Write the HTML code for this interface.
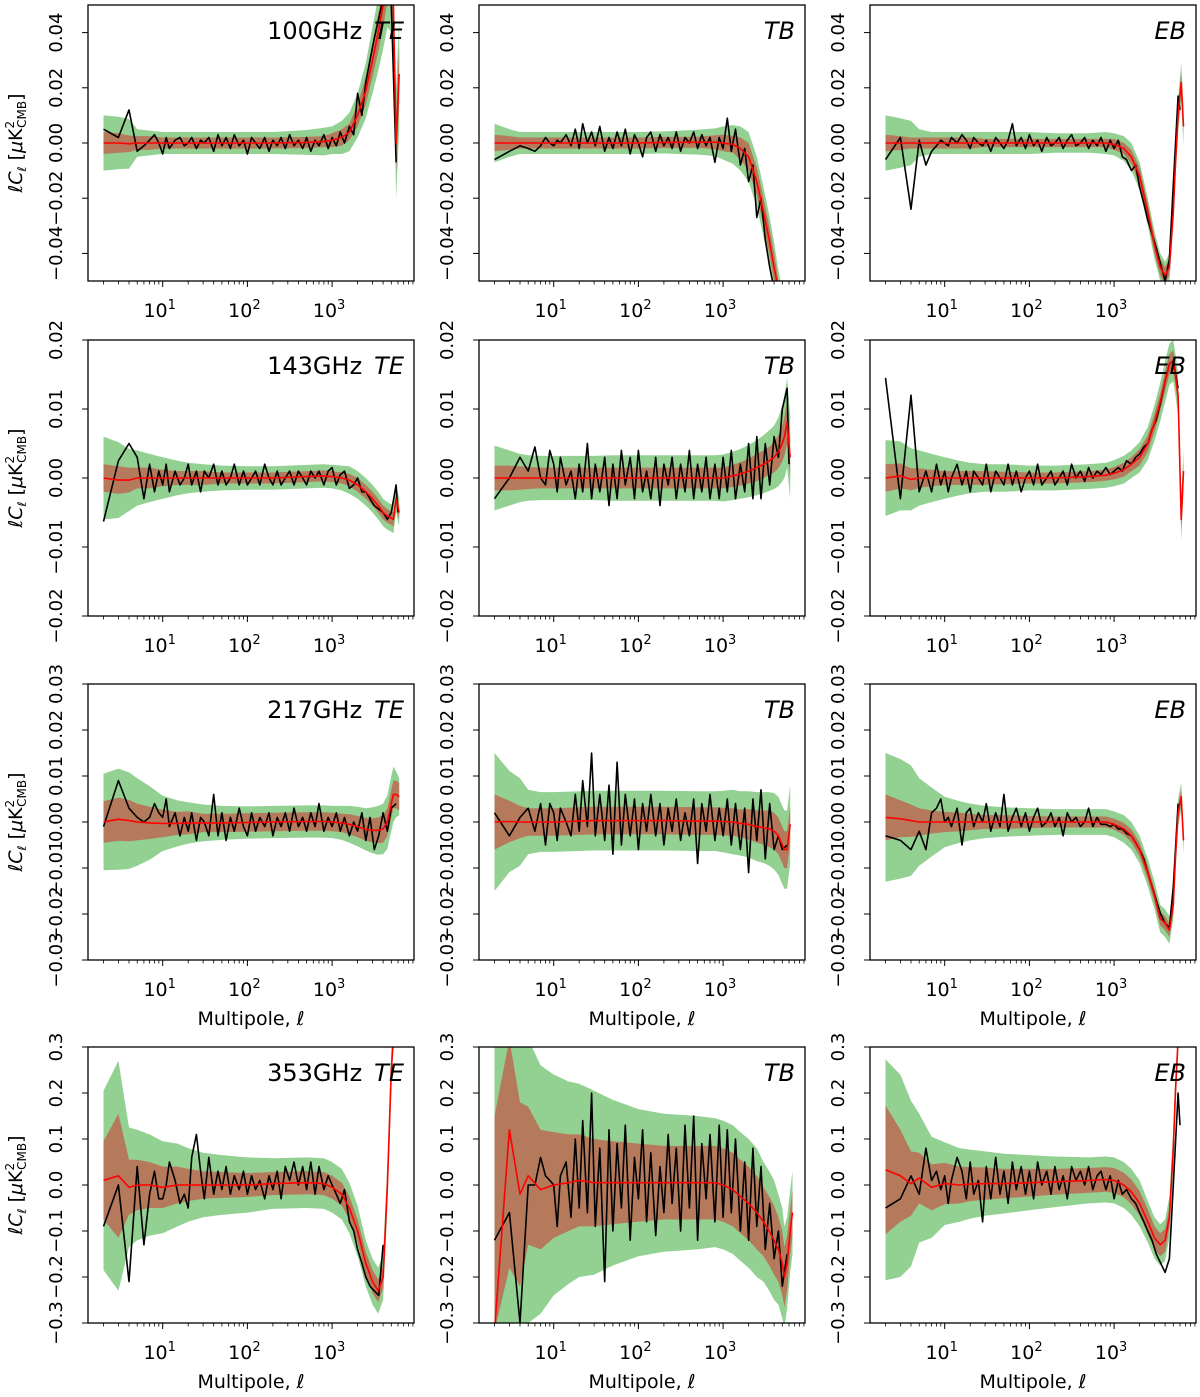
<!DOCTYPE html>
<html><head><meta charset="utf-8"><style>
html,body{margin:0;padding:0;background:#fff;overflow:hidden;width:1200px;height:1397px;}
svg{display:block;font-family:"DejaVu Sans","Liberation Sans",sans-serif;}
</style></head><body>
<svg id="fig" width="1200" height="1397" viewBox="0 0 1200 1397" xmlns="http://www.w3.org/2000/svg"></svg>
<script>
// multipole grids
const MELL=[2,3,4,5,7,10,15,20,30,50,100,200,500,800,1000,1300,1600,2000,2500,3000,3500,4000,4500,5000,5300,5700,6200,6600];
const DELL=[2,3,4,5,6,7,8,9,10,11,12,14,16,18,20,22,25,28,31,35,40,45,50,56,63,70,80,90,100,112,125,140,160,180,200,225,250,280,315,355,400,450,500,560,630,700,800,900,1000,1120,1250,1400,1600,1800,2000,2250,2500,2800,3150,3550,4000,4500,5000,5700,6000];
// row scales (values stored in 1e-3, row 4 in 1e-2)
const rowUnits=[1e-3,1e-3,1e-3,1e-2];
const rowLims=[0.05,0.02,0.03,0.3];
const rowTicks=[[-0.04,-0.02,0,0.02,0.04],[-0.02,-0.01,0,0.01,0.02],[-0.03,-0.02,-0.01,0,0.01,0.02,0.03],[-0.3,-0.2,-0.1,0,0.1,0.2,0.3]];
const rowTickLabels=[["−0.04","−0.02","0.00","0.02","0.04"],["−0.02","−0.01","0.00","0.01","0.02"],["−0.03","−0.02","−0.01","0.00","0.01","0.02","0.03"],["−0.3","−0.2","−0.1","0.0","0.1","0.2","0.3"]];
const freqs=["100GHz","143GHz","217GHz","353GHz"];
const spectra=["TE","TB","EB"];
const xTickExps=[1,2,3];

// 100GHz
const m100TE=[0,0,-0.3,0,0,0,0,0,0,0,0,0,0.2,0.5,1,2,4,10,19,30,40,50,60,60,50,0,25,null];
const s1_100TE=[4,3.5,3,2.5,2.5,2,2,2,2,2,2,2,2,2,2.5,3,3,4,5,6,7,8,9,10,10,10,10,10];
const s2_100TE=[10,9.5,9,5,4.5,4,4,4,4,4,4,4,4.5,5,5,6,7,8,10,12,14,16,18,20,20,20,20,20];
const d100TE=[5,2,12,-3,-1,1,3,0,-4,2,-2,1,2,-1,0,2,-2,1,0,2,-3,3,-1,2,-2,3,-1,1,-4,2,0,-2,2,-3,1,-1,2,-2,3,-1,1,-2,2,-3,1,-1,3,-2,2,-1,4,0,6,3,18,10,22,30,38,45,55,60,50,-7,null];
const m100TB=[0,0,0,0,0,0,0,0,0,0,0,0.2,0.3,0.3,0,-0.5,-2,-5,-14,-25,-35,-45,-55,-70,-70,-70,-70,null];
const s1_100TB=[3,2.5,2,2,2,2,2,2,2,2,2,2,2,2.5,3,3,4,5,5,5,5,5,5,5,5,5,5,5];
const s2_100TB=[7,5,4,4,4,4,4,4,4,4,4,4,4.5,5,6,7,8,9,9,9,9,9,9,9,9,9,9,9];
const d100TB=[-6,-3,-1,-2,-3,-1,2,0,-1,1,0,3,-1,5,-2,7,0,4,-1,6,-3,2,-2,4,-1,5,-4,3,0,-5,2,4,-3,3,-1,2,-2,4,-3,2,0,4,-2,3,-1,2,-7,2,-2,9,-3,5,-8,-2,-14,-8,-27,-20,-35,-45,-55,-60,null,null,null];
const m100EB=[0,0,0,0,0,0,0,0,0,0,0,0,0,0,-0.5,-2,-5,-12,-25,-37,-45,-48,-45,-25,-8,10,22,6];
const s1_100EB=[3,2.5,2,2,2,2,2,2,1.5,1.5,1.5,1.5,1.5,1.5,2,2,2.5,3,3,3,3,3,3,3,3,3,3,3];
const s2_100EB=[10,9,8,5,4,4,4,4,4,4,4,3.5,3.5,4,4,4.5,5,5,5,5,5,5,5,5,5,6,7,7];
const d100EB=[-6,2,-24,1,-8,-3,-1,1,0,-1,2,0,3,1,-2,2,0,-1,1,-3,2,0,-2,1,7,-1,2,-2,3,-1,1,-3,2,-1,0,2,-2,1,3,-1,0,2,-2,1,-1,2,-3,1,-2,1,-5,-6,-10,-8,-16,-22,-28,-33,-38,-44,-50,-42,-15,17,12];
// 143GHz
const m143TE=[0,-0.3,-0.3,0,0,0,0,0,0,0,0,0,0.2,0.3,0.2,0,-0.3,-1,-2,-3,-4,-5,-5.5,-5.8,-6,-3,-5,null];
const s1_143TE=[2,2,1.8,1.5,1.5,1.2,1,1,1,0.8,0.8,0.8,0.8,0.8,0.8,0.8,0.9,1,1,1,1,1,1,1,1,1,1,1];
const s2_143TE=[6,5.5,4.5,4,3.5,3,2.5,2.2,2,1.8,1.7,1.7,1.7,1.7,1.7,1.8,2,2,2,2,2,2,2,2,2,2,2,2];
const d143TE=[-6.3,2.5,5,3,-3,2,-2,1,-1,2,-2,1,-1,0,2,-1,1,-2,1,0,2,-1,1,-1,0,2,-1,1,-1,0,1,-1,2,0,-1,1,-1,0,1,-1,1,0,-1,1,0,1,-1,1,1.5,-1,0.5,1,-1.5,-1,0,-2,-2,-3,-4,-4.5,-5,-6,-5,-1,-5];
const m143TB=[0,0,0,0,0,0,0,0,0,0,0,0,0,0,0,0.3,0.6,1,1.5,2,2.5,3,3.8,5,6,8,3,null];
const s1_143TB=[1.8,1.8,1.7,1.6,1.5,1.5,1.5,1.5,1.5,1.5,1.5,1.5,1.5,1.5,1.5,1.6,1.7,1.8,2,2,2,2.2,2.4,2.6,2.8,3,3,3];
const s2_143TB=[4.7,4,3.5,3.3,3.2,3.2,3.2,3.2,3.2,3.3,3.3,3.3,3.3,3.3,3.4,3.5,3.6,3.8,4,4.2,4.4,4.6,5,5.5,6,6.5,6,6];
const d143TB=[-3,0,3,1,4.5,0,-1,4,2,-2,3,-1,1,-3,2,-2,5,-3,2,-2,3,-4,2,-3,4,-1,3,-3,4,-2,1,-3,3,-4,2,-1,3,-3,2,-2,4,-3,2,-2,3,-3,2,-3,3,-2,4,-3,2,-2,5,-3,6,-3,5,-1,6,3,10,13,2];
const m143EB=[0,0.3,-0.2,0,0,0,0,0,0,0,0,0,0.2,0.4,0.7,1.2,2,3,5,8,11,14,16.5,17,15,12,-6,1];
const s1_143EB=[2,1.8,1.6,1.4,1.2,1,1,1,1,0.9,0.8,0.8,0.8,0.8,0.9,1,1,1.2,1.2,1.3,1.3,1.4,1.5,1.5,1.5,1.5,1.5,1.5];
const s2_143EB=[5.5,5,4.5,4,3.5,3,2.5,2.2,2,2,1.8,1.8,1.8,1.8,1.9,2,2,2.2,2.4,2.6,2.8,3,3,3,3,3,3,3];
const d143EB=[14.5,-3,12,-2,1,-2,2,-1,1,-2,0,2,-1,1,-2,1,0,-1,2,-2,1,0,-1,2,-1,1,-2,0,1,-1,2,-1,0,1,-1,0,1,-1,2,0,1,-0.5,1.5,0,1,0.5,1.5,0.5,1,1.5,1,2.5,2,3,3.5,4.5,5,7,8.5,11,14,16.5,17,13,null];
// 217GHz
const m217TE=[0,0.6,0.3,0,-0.2,-0.3,-0.3,-0.2,-0.2,-0.2,-0.1,0,0.1,0.1,0,-0.2,-0.5,-1,-1.6,-1.8,-1.8,-1.5,0,4,6,6,5.5,null];
const s1_217TE=[4.5,4.7,4.5,4,3.5,3,2.5,2.5,2,2,2,2,2,2,2,2,2.2,2.3,2.5,2.6,2.8,3,3,3,3,3,3,3];
const s2_217TE=[10.5,11,10.5,9.5,8,6,5,4.5,4,3.7,3.5,3.5,3.5,3.5,3.5,3.7,4,4.3,4.6,5,5.3,5.5,5.8,6,6,5,4,4];
const d217TE=[-1,9,3,1,0,1,4,2,1,5,-1,2,-3,1,-2,2,-4,1,0,-3,6,-3,2,-4,1,-2,3,-1,-3,2,-2,1,-1,2,-3,1,-1,2,-2,3,-1,1,-2,2,-1,4,-2,1,-1,2,-2,1,-3,0,-2,2,-4,1,-6,-3,2,-2,3,4,null];
const m217TB=[0,0.1,0,0,0,0,0.1,0.2,0.3,0.3,0.3,0.3,0.2,0.2,0.1,0,-0.3,-0.5,-1,-1.2,-1.5,-2,-3,-5,-6,-6,-0.5,null];
const s1_217TB=[6,4.5,3.5,3,3,3,3,3,3,3,3,3,3,3,3,3,3,3.3,3.5,3.7,4,4,4,4,4,4,4,4];
const s2_217TB=[15,11,9.5,7,6.5,6.5,6.5,6.5,6.5,6.5,6.5,6.5,6.5,6.5,6.7,7,7,7.2,7.5,7.7,8,8.3,8.5,8.5,8.5,8.5,8.5,8.5];
const d217TB=[2,-3,1,3,-2,4,-5,4,2,-4,3,0,-3,6,-2,9,-1,15,-3,6,-4,8,-7,13,-5,6,-3,5,-6,4,-2,6,-3,4,-5,3,-2,5,-4,2,-3,5,-9,4,-2,6,-4,3,-3,5,-5,4,-6,3,-11,5,-4,7,-8,4,-6,-3,-6,-5,null];
const m217EB=[1,0.7,0.3,0,0,0,0,0,0,0,0,0,0,0,-0.5,-1.5,-3,-6,-11,-16,-21,-22,-23.5,-18,-8,2,5.5,-4];
const s1_217EB=[5,4,3.5,3,2.5,2.2,2,1.8,1.5,1.5,1.3,1.2,1.2,1.2,1.2,1.3,1.4,1.5,1.5,1.5,1.5,1.5,1.5,1.5,1.5,1.5,1.5,1.5];
const s2_217EB=[14,13,12,9.5,7.5,5.5,4.5,4,3.5,3.2,3,2.8,2.8,2.8,2.8,3,3,3,3,3,3,3,3,3,3,3,3,3];
const d217EB=[-3,-4,-6,-2,-6,2,3,5,0,1,-1,3,-5,2,3,-1,2,0,4,-2,2,-1,6,-2,1,3,-1,2,-2,1,3,-1,0,2,-1,1,-3,2,0,1,-1,0,3,-1,1,-0.5,-0.5,-1,-0.5,-1.5,-1.5,-2.5,-3,-4.5,-6,-8,-11,-14,-17,-20,-22,-23,-14,4,null];
// 353GHz (units 1e-2)
const m353TE=[1,2,-0.5,0,0,-0.5,0,0,0,0,0,0.3,0.5,0.3,-0.5,-2,-5,-10,-17,-21,-23,-20,0,25,40,60,60,null];
const s1_353TE=[8.5,13.5,6,5.5,5,4.5,4,3.5,3,2.8,2.6,2.5,2.5,2.5,2.5,2.5,2.5,2.5,2.5,2.5,2.5,2.5,2.5,2.5,2.5,2.5,2.5,2.5];
const s2_353TE=[19.5,25,13,12,11,10,9,8,7,6.5,6,5.5,5.5,5.5,5.5,5.5,5.5,5.5,5,5,5,5,5,5,5,5,5,5];
const d353TE=[-9,0,-21,4,-13,-2,3,-3,-3,0,5,1,-4,-2,-5,6,11,3,-3,6,-2,3,-1,4,-2,2,-1,3,-2,2,-1,1,-3,2,-1,3,-3,4,1,5,0,4,-1,5,-2,4,-1,2,0,-2,-4,-1,-8,-10,-14,-17,-20,-22,-23,-24,-13,null,null,null,null];
const m353TB=[-45,12,-2,2,-1,0,0.5,1,0.5,0.5,0.5,0.5,0.5,0.5,0,-1,-2.5,-4,-6,-8,-10,-12,-14,-17,-20,-17,-10,-6];
const s1_353TB=[60,30,20,15,13,11.5,10.5,10,9.5,9,8.5,8,8,8,8,8,8,8,8,7.5,7.5,7.5,7,7,6.5,6,5,5];
const s2_353TB=[100,60,40,32,27,24,22,21,20,18,16,15,14.5,14,14,14,14,14,14,13,13,13,12,12,11,10,9,9];
const d353TB=[-12,-6,-30,0,0,6,2,1,0,-9,2,5,-7,10,-5,14,-6,20,-9,8,-21,12,-10,9,-5,13,-12,6,-3,12,-8,7,-11,4,-6,11,-4,8,-10,13,-5,15,-12,9,-3,11,-8,13,-7,12,-6,10,-10,5,-12,8,-9,4,-14,-4,-16,-10,-22,-15,null];
const m353EB=[3.3,2,0.3,1.5,-0.5,0.3,0,0.2,0.3,0.3,0.5,0.7,1,1.2,1,0,-1.5,-4,-8,-11.5,-13,-12,-7,8,20,35,60,null];
const s1_353EB=[14,10,7,5.5,5,4.5,4,3.7,3.5,3.2,3,2.8,2.7,2.7,2.7,2.7,2.7,2.7,2.7,2.5,2.5,2.5,2.5,2.5,2.5,2.5,2.5,2.5];
const s2_353EB=[24,22,18,14,11,9,8,7.5,7,6.5,6,5.5,5,5,5,5,5,5,4.5,4.5,4.5,4.5,4.5,4.5,4.5,4.5,4.5,4.5];
const d353EB=[-5,-3,2,-2,8,1,3,-1,2,-4,1,6,3,-3,5,-2,1,-8,4,-3,6,-2,3,-4,5,-1,4,-2,3,-3,5,0,3,-2,4,-1,2,-3,4,1,3,0,4,-1,2,3,-1,2,-3,1,-2,-1,-3,-4,-6,-8,-10,-12,-15,-17,-19,-16,0,20,13];

const models=[[m100TE,m100TB,m100EB],[m143TE,m143TB,m143EB],[m217TE,m217TB,m217EB],[m353TE,m353TB,m353EB]];
const sig1=[[s1_100TE,s1_100TB,s1_100EB],[s1_143TE,s1_143TB,s1_143EB],[s1_217TE,s1_217TB,s1_217EB],[s1_353TE,s1_353TB,s1_353EB]];
const sig2=[[s2_100TE,s2_100TB,s2_100EB],[s2_143TE,s2_143TB,s2_143EB],[s2_217TE,s2_217TB,s2_217EB],[s2_353TE,s2_353TB,s2_353EB]];
const datas=[[d100TE,d100TB,d100EB],[d143TE,d143TB,d143EB],[d217TE,d217TB,d217EB],[d353TE,d353TB,d353EB]];

const NS="http://www.w3.org/2000/svg";
const svg=document.getElementById('fig');
const colX=[88,479,870], PW=326;
const rowY=[5,340,684,1047], PH=276;
function el(tag,attrs,parent){const e=document.createElementNS(NS,tag);for(const k in attrs)e.setAttribute(k,attrs[k]);(parent||svg).appendChild(e);return e;}

for(let r=0;r<4;r++){
  for(let c=0;c<3;c++){
    const x0=colX[c], y0=rowY[r];
    const lim=rowLims[r], u=rowUnits[r];
    const X=l=>x0+74.7+(Math.log10(l)-1)*84.7;
    const Yraw=v=>y0+PH/2-(v*u)/lim*(PH/2);
    const clampY=y=>Math.max(y0-8,Math.min(y0+PH+8,y));
    const Y=v=>clampY(Yraw(v));
    const g=el('g',{});
    
    
    const cid='clip'+r+c;
    const cp=el('clipPath',{id:cid},g); el('rect',{x:x0,y:y0,width:PW,height:PH},cp);
    const pg=el('g',{'clip-path':'url(#'+cid+')'},g);
    const m=models[r][c], s1=sig1[r][c], s2=sig2[r][c], d=datas[r][c];
    function band(s,color,name){
      const up=[],lo=[];
      for(let i=0;i<MELL.length;i++){ if(m[i]===null)continue; up.push(X(MELL[i]).toFixed(1)+','+Y(m[i]+s[i]).toFixed(1)); lo.unshift(X(MELL[i]).toFixed(1)+','+Y(m[i]-s[i]).toFixed(1)); }
      const p=el('polygon',{points:up.concat(lo).join(' '),fill:color},pg);
      
      
    }
    band(s2,'#93d193','band-2sigma');
    band(s1,'#b57a5c','band-1sigma');
    const dp=[];
    for(let i=0;i<DELL.length;i++){ if(d[i]===null)continue; dp.push(X(DELL[i]).toFixed(1)+','+Y(d[i]).toFixed(1)); }
    const dl=el('polyline',{points:dp.join(' '),fill:'none',stroke:'#000','stroke-width':1.6,'stroke-linejoin':'round'},pg);
    
    
    const mp=[];
    for(let i=0;i<MELL.length;i++){ if(m[i]===null)continue; mp.push(X(MELL[i]).toFixed(1)+','+Y(m[i]).toFixed(1)); }
    const ml=el('polyline',{points:mp.join(' '),fill:'none',stroke:'#ff0000','stroke-width':1.6,'stroke-linejoin':'round'},pg);
    
    
    const fr=el('rect',{x:x0,y:y0,width:PW,height:PH,fill:'none',stroke:'#000','stroke-width':1.3},g);
    
    
    rowTicks[r].forEach((t,i)=>{
      const ty=y0+PH/2-t/lim*(PH/2);
      el('line',{x1:x0-6,x2:x0,y1:ty,y2:ty,stroke:'#000','stroke-width':1},g);
      const tx=el('text',{x:0,y:0,transform:'translate('+(x0-26)+','+ty.toFixed(1)+') rotate(-90)','text-anchor':'middle','font-size':18,fill:'#000'},g);
      tx.textContent=rowTickLabels[r][i];
      
      
    });
    for(let dec=0;dec<4;dec++){
      for(let k=1;k<10;k++){
        const l=k*Math.pow(10,dec); const xx=X(l);
        if(xx<x0||xx>x0+PW)continue;
        const len=k===1?6:3.5;
        el('line',{x1:xx,x2:xx,y1:y0+PH,y2:y0+PH+len,stroke:'#000','stroke-width':k===1?1:0.8},g);
      }
    }
    xTickExps.forEach(e=>{
      const xx=X(Math.pow(10,e));
      const t=el('text',{x:xx-3,y:y0+PH+36,'text-anchor':'middle','font-size':19,fill:'#000'},g);
      
      
      t.innerHTML='10<tspan dy="-8" font-size="13">'+e+'</tspan>';
    });
    const tt=el('text',{x:x0+PW-10,y:y0+34,'text-anchor':'end','font-size':24,fill:'#000'},g);
    
    
    tt.innerHTML=(c===0?freqs[r]+'\u2002':'')+'<tspan font-style="italic">'+spectra[c]+'</tspan>';
    if(r>=2){
      const xl=el('text',{x:x0+PW/2,y:y0+PH+65,'text-anchor':'middle','font-size':19,fill:'#000'},g);
      
      
      xl.innerHTML='Multipole, <tspan font-style="italic">ℓ</tspan>';
    }
  }
  const yc=rowY[r]+PH/2;
  const yl=el('text',{x:0,y:0,transform:'translate(22,'+yc+') rotate(-90)','text-anchor':'middle','font-size':19,fill:'#000'});
  
  
  yl.innerHTML='<tspan font-style="italic">ℓC</tspan><tspan font-size="12" dy="4" font-style="italic">ℓ</tspan><tspan dy="-4"> [</tspan><tspan font-style="italic">μ</tspan>K<tspan font-size="12" dy="-8">2</tspan><tspan font-size="12" dx="-7" dy="12">CMB</tspan><tspan dy="-4">]</tspan>';
}
</script>
</body></html>
